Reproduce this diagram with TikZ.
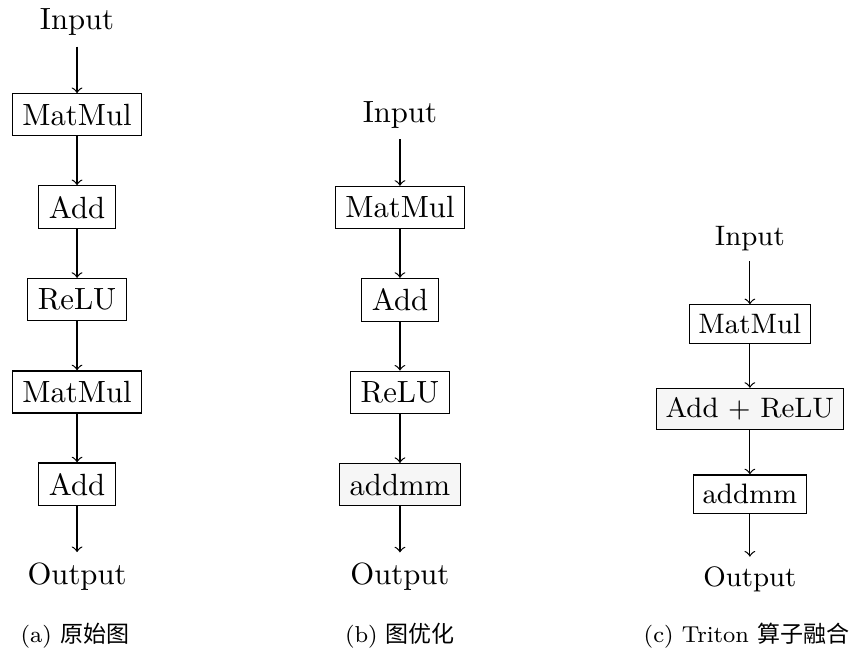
\documentclass[tikz,border=0pt]{standalone}
\usepackage{fontspec}
\newfontfamily\cjk{Noto Sans CJK SC}
\usetikzlibrary{positioning}
\tikzset{
  op/.style={draw,fill=white},
  fused/.style={draw,fill=gray!7},
  subcap/.style={font=\fontsize{7.5}{9}\selectfont,anchor=base},
}
\begin{document}
\begin{tikzpicture}[>=to,node distance=30.1pt,on grid]
\useasboundingbox (0,0) rectangle (277.9pt,-213pt);
% (a) original graph
\node (ain) at (25.1pt,-7.3pt) {Input};
\node[op,below=of ain] (a1) {MatMul};
\node[op,below=of a1] (a2) {Add};
\node[op,below=of a2] (a3) {ReLU};
\node[op,below=of a3] (a4) {MatMul};
\node[op,below=of a4] (a5) {Add};
\node[below=of a5] (aout) {Output};
\foreach \u/\v in {ain/a1,a1/a2,a2/a3,a3/a4,a4/a5,a5/aout} \draw[->] (\u)--(\v);
\node[subcap] (acap) at (24.4pt,-209.4pt) {(a) {\cjk 原始图}};
% (b) graph optimisation
\node (bin) at (130.3pt,-37.5pt) {Input};
\node[op,below=of bin] (b1) {MatMul};
\node[op,below=of b1] (b2) {Add};
\node[op,below=of b2] (b3) {ReLU};
\node[fused,below=of b3] (b4) {addmm};
\node[below=of b4] (bout) {Output};
\foreach \u/\v in {bin/b1,b1/b2,b2/b3,b3/b4,b4/bout} \draw[->] (\u)--(\v);
\node[subcap] (bcap) at (130.3pt,-209.4pt) {(b) {\cjk 图优化}};
% (c) triton fusion
\begin{scope}[node distance=27.7pt,font=\fontsize{9.16}{11}\selectfont,inner sep=3.05pt]
\node (cin) at (244.3pt,-77.9pt) {Input};
\node[op,below=of cin] (c1) {MatMul};
\node[fused,below=of c1] (c2) {Add + ReLU};
\node[op,below=of c2] (c3) {addmm};
\node[below=of c3] (cout) {Output};
\foreach \u/\v in {cin/c1,c1/c2,c2/c3,c3/cout} \draw[->] (\u)--(\v);
\end{scope}
\node[subcap] (ccap) at (243.2pt,-209.4pt) {(c) Triton {\cjk 算子融合}};
\end{tikzpicture}
\end{document}
